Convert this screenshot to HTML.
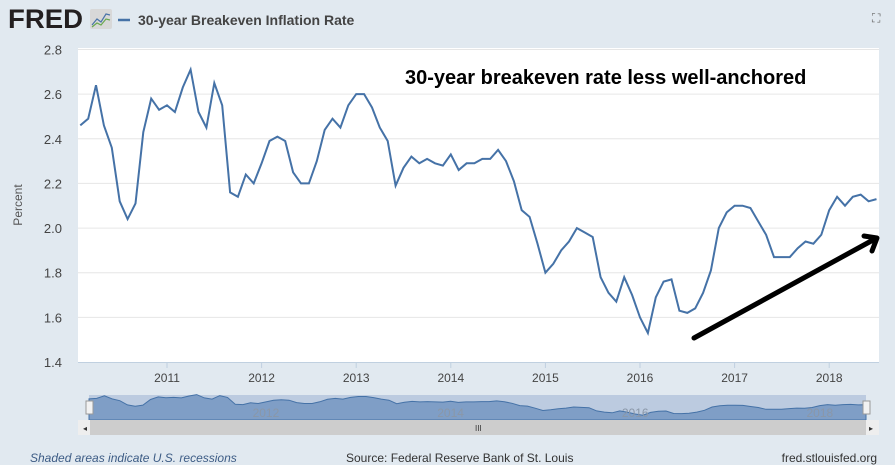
<!DOCTYPE html>
<html><head><meta charset="utf-8"><style>
body{margin:0;background:#e1e9f0;font-family:"Liberation Sans",sans-serif;}
svg{display:block}
</style></head><body>
<svg id="c" width="895" height="465" viewBox="0 0 895 465">
<rect width="895" height="465" fill="#e1e9f0"/>
<text x="8" y="28" font-size="27" font-weight="bold" fill="#231f20" textLength="75" lengthAdjust="spacingAndGlyphs">FRED</text>
<rect x="90" y="9" width="22" height="20" rx="2" fill="#d8d8d8"/>
<polyline points="92,25 97,19 101,22 106,14 110,15" fill="none" stroke="#4a74a8" stroke-width="1.2"/>
<polyline points="92,27 97,23 101,25 106,19 110,20" fill="none" stroke="#6aa84f" stroke-width="1.2"/>
<line x1="118" y1="20" x2="130" y2="20" stroke="#4572a7" stroke-width="2.5"/>
<text x="138" y="25" font-size="14" font-weight="bold" fill="#444">30-year Breakeven Inflation Rate</text>
<text x="872" y="22" font-size="12" fill="#666">⛶</text>
<rect x="78" y="48" width="801" height="314" fill="#fff"/>
<g id="grid"></g>
<text x="22" y="205" font-size="12" fill="#555" transform="rotate(-90 22 205)" text-anchor="middle">Percent</text>
<polyline id="line" fill="none" stroke="#4572a7" stroke-width="2"/>
<text x="405" y="84" font-size="20" font-weight="bold" fill="#000">30-year breakeven rate less well-anchored</text>
<line x1="694" y1="338" x2="873" y2="240" stroke="#000" stroke-width="5" stroke-linecap="round"/>
<polyline points="864,236 877,238 872,251" fill="none" stroke="#000" stroke-width="5" stroke-linecap="round" stroke-linejoin="round"/>
<g>
<rect x="89" y="395" width="777" height="25" fill="#bccbe0"/>
<path id="navarea" fill="#7f9ec6" stroke="#4572a7" stroke-width="1"/>
<g id="navlabels" font-size="12" fill="#8a97a8"></g>
<rect x="86" y="401" width="7" height="13" fill="#f2f2f2" stroke="#999"/>
<rect x="863" y="401" width="7" height="13" fill="#f2f2f2" stroke="#999"/>
</g>
<rect x="78" y="420" width="801" height="15" fill="#eee"/>
<rect x="90" y="420" width="776" height="15" fill="#cdcdcd"/>
<text x="83" y="431" font-size="8" fill="#333">◂</text><text x="869" y="431" font-size="8" fill="#333">▸</text>
<text x="475" y="431" font-size="8" fill="#333">III</text>
<text x="30" y="462" font-size="12" font-style="italic" fill="#3d5c85">Shaded areas indicate U.S. recessions</text>
<text x="346" y="462" font-size="12" fill="#333">Source: Federal Reserve Bank of St. Louis</text>
<text x="877" y="462" font-size="12" fill="#333" text-anchor="end">fred.stlouisfed.org</text>
</svg>
<script>
const startYear = 2010.0833;
const values = [2.46,2.49,2.64,2.46,2.36,2.12,2.04,2.11,2.43,2.58,2.53,2.55,2.52,2.63,2.71,2.52,2.45,2.65,2.55,2.16,2.14,2.24,2.20,2.29,2.39,2.41,2.39,2.25,2.20,2.20,2.30,2.44,2.49,2.45,2.55,2.60,2.60,2.54,2.45,2.39,2.19,2.27,2.32,2.29,2.31,2.29,2.28,2.33,2.26,2.29,2.29,2.31,2.31,2.35,2.30,2.21,2.08,2.05,1.93,1.80,1.84,1.90,1.94,2.00,1.98,1.96,1.78,1.71,1.67,1.78,1.70,1.60,1.53,1.69,1.76,1.77,1.63,1.62,1.64,1.71,1.81,2.00,2.07,2.10,2.10,2.09,2.03,1.97,1.87,1.87,1.87,1.91,1.94,1.93,1.97,2.08,2.14,2.10,2.14,2.15,2.12,2.13];
const yTicks = [1.4,1.6,1.8,2.0,2.2,2.4,2.6,2.8];
const xTicks = [2011,2012,2013,2014,2015,2016,2017,2018];
const navLabels = [2012,2014,2016,2018];
const NS="http://www.w3.org/2000/svg";
const X = t => 167 + (t-2011)*94.6;
const Y = v => 362 - (v-1.4)/1.4*312.5;
const g=document.getElementById('grid');
function mk(tag,attrs,parent,txt){const e=document.createElementNS(NS,tag);for(const k in attrs)e.setAttribute(k,attrs[k]);if(txt!==undefined)e.textContent=txt;parent.appendChild(e);return e;}
yTicks.forEach(v=>{
  if(v>1.4){const l=mk('line',{x1:78,x2:879,y1:Y(v),y2:Y(v),stroke:'#e6e6e6','stroke-width':1},g);
  
  }
  const t=mk('text',{x:62,y:Y(v)+5,'font-size':13,fill:'#444','text-anchor':'end'},g,v.toFixed(1));
  
  
});
mk('line',{x1:78,x2:879,y1:362.5,y2:362.5,stroke:'#c0d0e0'},g);
xTicks.forEach(y=>{
  mk('line',{x1:X(y),x2:X(y),y1:362,y2:368,stroke:'#c0d0e0'},g);
  const t=mk('text',{x:X(y),y:382,'font-size':12,fill:'#444','text-anchor':'middle'},g,String(y));
  
  
});
const pts=values.map((v,i)=>[X(startYear+i/12),Y(v)]);
document.getElementById('line').setAttribute('points',pts.map(p=>p[0].toFixed(1)+','+p[1].toFixed(1)).join(' '));
const NX0=89,NX1=866;
const nx=i=>NX0+(NX1-NX0)*i/(values.length-1);
const ny=v=>421-(v-1.2)/1.6*28;
let d='M'+NX0+',420 '+values.map((v,i)=>'L'+nx(i).toFixed(1)+','+ny(v).toFixed(1)).join(' ')+' L'+NX1+',420 Z';
document.getElementById('navarea').setAttribute('d',d);
const nl=document.getElementById('navlabels');
navLabels.forEach(y=>{
  const xx=NX0+(NX1-NX0)*(y-startYear)/((values.length-1)/12);
  const t=mk('text',{x:xx,y:417,'text-anchor':'middle'},nl,String(y));
  
  
});
</script>
</body></html>
